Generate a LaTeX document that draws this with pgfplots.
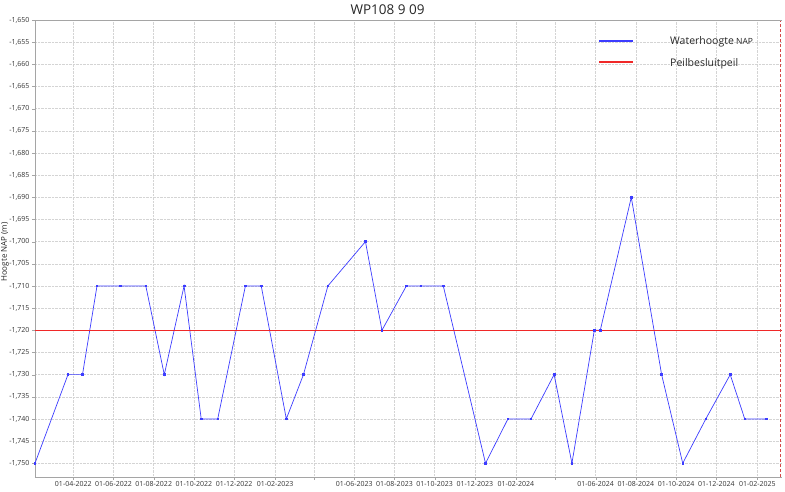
\documentclass[border=0pt]{standalone}
\usepackage{fontspec}
\setmainfont{Open Sans}
\usepackage{pgfplots}
\pgfplotsset{compat=1.18}

\definecolor{lineblue}{RGB}{60,60,255}
\definecolor{pred}{RGB}{240,40,40}
\definecolor{dred}{RGB}{215,70,70}
\definecolor{axgray}{RGB}{165,165,165}
\definecolor{grdgray}{RGB}{212,212,212}

% x = days since 01-01-2022
\pgfplotstableread{
day  h
32   -1.750
82   -1.730
104  -1.730
126  -1.710
161  -1.710
200  -1.710
228  -1.730
258  -1.710
284  -1.740
309  -1.740
351  -1.710
375  -1.710
413  -1.740
439  -1.730
476  -1.710
533  -1.700
558  -1.720
595  -1.710
617  -1.710
651  -1.710
715  -1.750
749  -1.740
784  -1.740
819  -1.730
846  -1.750
880  -1.720
889  -1.720
936  -1.690
982  -1.730
1014 -1.750
1049 -1.740
1086 -1.730
1108 -1.740
1141 -1.740
}\waterdata

\begin{document}
\begin{tikzpicture}
\useasboundingbox (-35pt,-15pt) rectangle (750pt,477pt);
\begin{axis}[
    at={(0pt,0pt)}, anchor=south west,
    scale only axis,
    width=747pt, height=457pt,
    xmin=32, xmax=1164.5,
    ymin=-1.7531, ymax=-1.65,
    axis lines=left,
    axis line style={axgray, -},
    xtick={90,151,212,273,334,396,455,516,577,638,699,761,821,882,943,1004,1065,1127},
    xticklabels={01-04-2022,01-06-2022,01-08-2022,01-10-2022,01-12-2022,01-02-2023,,
                 01-06-2023,01-08-2023,01-10-2023,01-12-2023,01-02-2024,,
                 01-06-2024,01-08-2024,01-10-2024,01-12-2024,01-02-2025},
    ytick={-1.75,-1.745,-1.74,-1.735,-1.73,-1.725,-1.72,-1.715,-1.71,-1.705,-1.7,
           -1.695,-1.69,-1.685,-1.68,-1.675,-1.67,-1.665,-1.66,-1.655,-1.65},
    ticklabel style={font=\fontsize{7}{8}\selectfont, text=black!80},
    xticklabel style={yshift=2pt},
    yticklabel style={xshift=1pt, /pgf/number format/.cd, fixed, fixed zerofill,
                      precision=3, use comma, assume math mode=true},
    tick style={axgray},
    major tick length=3pt,
    tick align=outside,
    xmajorgrids, ymajorgrids,
    major grid style={grdgray, densely dotted, line width=0.5pt},
    clip=false,
]
\addplot[lineblue, line width=0.7pt, mark=square*, mark size=0.8pt,
         mark options={fill=lineblue}] table[x=day, y=h] {\waterdata};
\addplot[pred, line width=1.1pt] coordinates {(32,-1.72) (1164.5,-1.72)};
\addplot[dred, densely dashed, line width=0.7pt]
    coordinates {(1162,-1.7531) (1162,-1.65)};
\draw[axgray] (rel axis cs:0,1) -- (rel axis cs:1,1);
\end{axis}
% legend, drawn by hand
\draw[lineblue, line width=1.5pt] (564pt,436pt) -- (598pt,436pt);
\draw[pred, line width=1.5pt] (564pt,415pt) -- (598pt,415pt);
\node[anchor=west, inner sep=0pt, font=\fontsize{10.5}{12}\selectfont, text=black!85]
    at (635pt,435pt) {Waterhoogte{\fontsize{8.5}{10}\selectfont\ NAP}};
\node[anchor=west, inner sep=0pt, font=\fontsize{10.5}{12}\selectfont, text=black!85]
    at (635pt,413pt) {Peilbesluitpeil};
\node[font=\fontsize{13.5}{15}\selectfont, text=black!85] at (352.5pt,467pt) {WP108 9 09};
\node[font=\fontsize{8}{9}\selectfont, text=black!85, rotate=90] at (-30pt,225pt) {Hoogte NAP (m)};
\end{tikzpicture}
\end{document}
